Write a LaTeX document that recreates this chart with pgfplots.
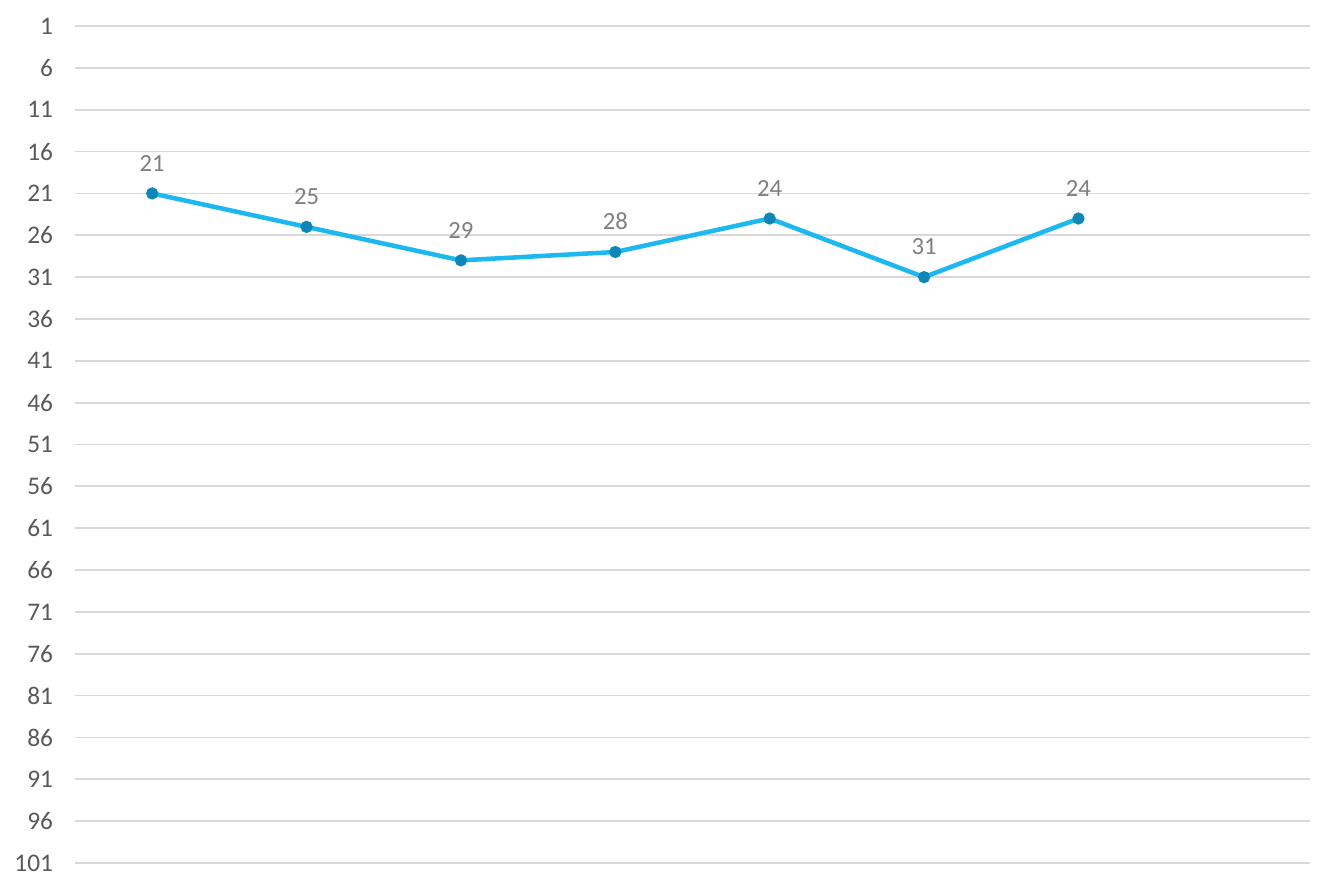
\documentclass[border=0pt]{standalone}
\usepackage{fontspec}
\setmainfont{Carlito}
\usepackage{pgfplots}
\pgfplotsset{compat=1.18}
\definecolor{linec}{HTML}{1DB8F0}
\definecolor{markc}{HTML}{0E86B8}
\definecolor{gridc}{HTML}{D9D9D9}
\definecolor{tickc}{HTML}{595959}
\definecolor{labc}{HTML}{7F7F7F}
\begin{document}
\begin{tikzpicture}
\begin{axis}[
  at={(0,0)}, anchor=south west,
  scale only axis,
  width=926.25pt, height=627.75pt,
  xmin=0, xmax=8,
  ymin=1, ymax=101,
  y dir=reverse,
  ytick={1,6,...,101},
  xtick=\empty,
  ymajorgrids,
  grid style={gridc, line width=1.3pt},
  axis line style={draw=none},
  major tick length=0pt,
  tick label style={font=\fontsize{19}{22}\selectfont, text=tickc},
  yticklabel style={xshift=-13pt},
  /pgf/number format/assume math mode=true,
  clip=false,
]
\addplot[linec, line width=3.4pt, mark=*, mark size=2.8pt,
  mark options={fill=markc, draw=markc},
  nodes near coords,
  every node near coord/.append style={font=\fontsize{18.5}{21}\selectfont, text=labc, anchor=south, inner sep=0pt, yshift=15pt}]
  coordinates {(0.5,21) (1.5,25) (2.5,29) (3.5,28) (4.5,24) (5.5,31) (6.5,24)};
\end{axis}
\path (-56.25pt,-19.5pt) rectangle (944.25pt,647.25pt);
\end{tikzpicture}
\end{document}
